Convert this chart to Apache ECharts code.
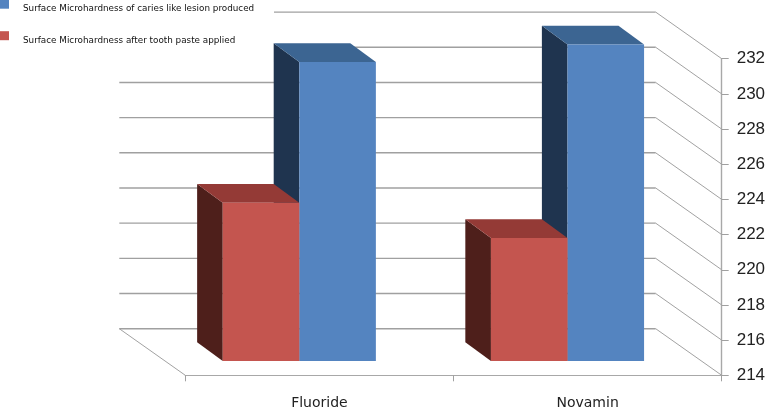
<!DOCTYPE html>
<html>
<head>
<meta charset="utf-8">
<style>html,body{margin:0;padding:0;background:#fff;}#c{width:765px;height:408px;}</style>
<script src="https://cdn.jsdelivr.net/npm/echarts@6/dist/echarts.min.js"></script>
</head>
<body>
<div id="c"></div>
<script>
const categories = ['Fluoride', 'Novamin'];
const seriesNames = ['Surface Microhardness of caries like lesion produced', 'Surface Microhardness after tooth paste applied'];
const lesionValues = [231, 232];
const pasteValues = [223, 221];
const tickValues = [214, 216, 218, 220, 222, 224, 226, 228, 230, 232];

const WALL_DX = 66, WALL_DY = 46.6;
const BAR_FRONT_DX = 20.1, BAR_FRONT_DY = 14.3;
const BAR_DX = 25.6, BAR_DY = 18.7;
const BAR_FRAC = 0.2855;
const AXIS_MIN = tickValues[0], AXIS_MAX = tickValues[tickValues.length - 1];

const chart = echarts.init(document.getElementById('c'), null, { renderer: 'canvas' });

function poly(points, fill) {
  return { type: 'polygon', shape: { points }, style: { fill, stroke: null } };
}
function barRenderer(side, colors) {
  return function (params, api) {
    const cat = api.value(0), val = api.value(1);
    const w = api.size([1, 0])[0] * BAR_FRAC;
    const top = api.coord([cat, val]);
    const base = api.coord([cat, AXIS_MIN]);
    const xl = top[0] - BAR_FRONT_DX + (side > 0 ? 0 : -w);
    const xr = xl + w;
    const yt = top[1] - BAR_FRONT_DY;
    const yb = base[1] - BAR_FRONT_DY;
    return {
      type: 'group',
      children: [
        poly([[xl, yt], [xl - BAR_DX, yt - BAR_DY], [xl - BAR_DX, yb - BAR_DY], [xl, yb]], colors.side),
        poly([[xl, yt], [xl - BAR_DX, yt - BAR_DY], [xr - BAR_DX, yt - BAR_DY], [xr, yt]], colors.top),
        poly([[xl, yt], [xr, yt], [xr, yb], [xl, yb]], colors.front)
      ]
    };
  };
}
function wallRenderer(params, api) {
  const v = api.value(0);
  const cs = params.coordSys;
  const y = api.coord([0, v])[1];
  const right = cs.x + cs.width, left = cs.x;
  const children = [
    { type: 'polyline', shape: { points: [[left - WALL_DX, y - WALL_DY], [right - WALL_DX, y - WALL_DY]] },
      style: { stroke: '#a0a0a0', lineWidth: 1.4, fill: null } },
    { type: 'polyline', shape: { points: [[right - WALL_DX, y - WALL_DY], [right, y]] },
      style: { stroke: '#a2a2a2', lineWidth: 1, fill: null } }
  ];
  if (v === AXIS_MIN) {
    children.push({ type: 'polyline', shape: { points: [[left - WALL_DX, y - WALL_DY], [left, y]] },
      style: { stroke: '#a2a2a2', lineWidth: 1, fill: null } });
  }
  return { type: 'group', children };
}

chart.setOption({
  animation: false,
  backgroundColor: '#fff',
  grid: { left: 185.3, right: 43.3, top: 58.7, bottom: 32.7, outerBoundsMode: 'none', containLabel: false },
  legend: {
    orient: 'vertical', left: 0, top: -5.8, padding: 0, itemWidth: 9, itemHeight: 9, itemGap: 11.5,
    align: 'left', selectedMode: false, z: 6,
    data: seriesNames.map(name => ({ name, icon: 'rect' })),
    formatter: '\n{name}',
    textStyle: { fontFamily: 'DejaVu Sans', fontSize: 8.8, lineHeight: 10, color: '#111', padding: [0, 0, 0, 9] }
  },
  graphic: { elements: [
    { type: 'rect', z: 2, silent: true, shape: { x: 0, y: 0, width: 274, height: 70 }, style: { fill: '#fff' } }
  ] },
  xAxis: {
    type: 'category', data: categories, boundaryGap: true,
    axisLine: { lineStyle: { color: '#a8a8a8', width: 1.2 } },
    axisTick: { show: true, length: 6, alignWithLabel: false, lineStyle: { color: '#a0a0a0' } },
    axisLabel: { fontFamily: 'DejaVu Sans', fontSize: 14, color: '#222', margin: 21 }
  },
  yAxis: {
    type: 'value', position: 'right', min: AXIS_MIN, max: AXIS_MAX, interval: 2,
    splitLine: { show: false },
    axisLine: { show: true, lineStyle: { color: '#a8a8a8', width: 1.4 } },
    axisTick: { show: true, length: 7, lineStyle: { color: '#a0a0a0' } },
    axisLabel: { fontFamily: 'Liberation Sans', fontSize: 17, color: '#222', margin: 15 }
  },
  series: [
    { type: 'custom', name: 'wall', coordinateSystem: 'cartesian2d', z: 1, clip: false, silent: true,
      data: tickValues.map(v => [v]), encode: { y: 0 }, renderItem: wallRenderer },
    { type: 'custom', name: seriesNames[0], coordinateSystem: 'cartesian2d', z: 3, clip: false,
      itemStyle: { color: '#5484C0' },
      data: lesionValues.map((v, i) => [i, v]), encode: { x: 0, y: 1 },
      renderItem: barRenderer(1, { front: '#5484C0', top: '#3C6592', side: '#1F344F' }) },
    { type: 'custom', name: seriesNames[1], coordinateSystem: 'cartesian2d', z: 4, clip: false,
      itemStyle: { color: '#C4554F' },
      data: pasteValues.map((v, i) => [i, v]), encode: { x: 0, y: 1 },
      renderItem: barRenderer(-1, { front: '#C4554F', top: '#943A36', side: '#4E1F1B' }) }
  ]
});
</script>
</body>
</html>
